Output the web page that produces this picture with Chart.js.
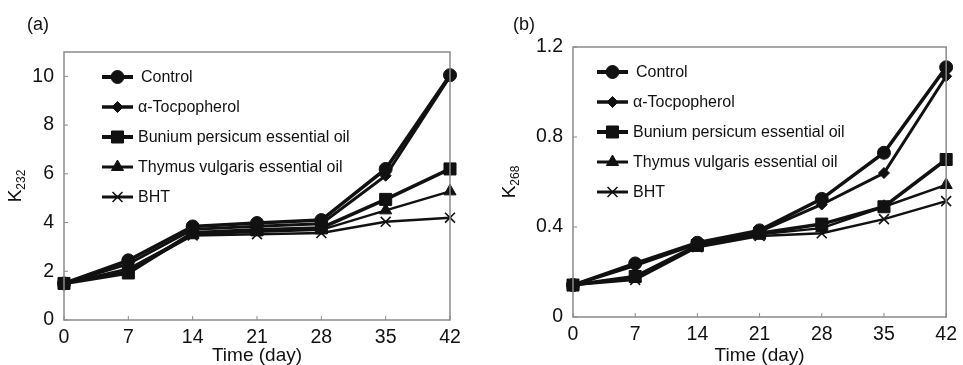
<!DOCTYPE html>
<html>
<head>
<meta charset="utf-8">
<script src="https://cdn.jsdelivr.net/npm/chart.js@4.4.1/dist/chart.umd.min.js"></script>
<style>
  html, body { margin: 0; padding: 0; background: #fff; }
  #wrap { position: relative; width: 963px; height: 365px; overflow: hidden; }
  canvas { position: absolute; top: 0; }
  #chartA { left: 0; }
  #chartB { left: 480px; }
</style>
</head>
<body>
<div id="wrap">
  <canvas id="chartA" width="480" height="365"></canvas>
  <canvas id="chartB" width="483" height="365"></canvas>
</div>
<script>
// storage time (days)
const days = [0, 7, 14, 21, 28, 35, 42];
const seriesNames = ['Control', 'α-Tocpopherol', 'Bunium persicum essential oil', 'Thymus vulgaris essential oil', 'BHT'];

// panel (a) K232
const k232Control = [1.5, 2.45, 3.84, 3.98, 4.1, 6.2, 10.05];
const k232Tocopherol = [1.5, 2.3, 3.72, 3.85, 3.95, 5.92, 10.0];
const k232Bunium = [1.5, 1.93, 3.58, 3.7, 3.78, 4.95, 6.2];
const k232Thymus = [1.5, 2.1, 3.52, 3.62, 3.7, 4.5, 5.28];
const k232Bht = [1.5, 2.0, 3.47, 3.52, 3.57, 4.03, 4.2];
const k232Ticks = [0, 2, 4, 6, 8, 10];

// panel (b) K268
const k268Control = [0.142, 0.238, 0.33, 0.385, 0.525, 0.73, 1.11];
const k268Tocopherol = [0.142, 0.228, 0.325, 0.38, 0.5, 0.64, 1.07];
const k268Bunium = [0.142, 0.18, 0.318, 0.372, 0.413, 0.49, 0.70];
const k268Thymus = [0.142, 0.175, 0.315, 0.368, 0.395, 0.49, 0.587];
const k268Bht = [0.142, 0.165, 0.31, 0.36, 0.372, 0.435, 0.515];
const k268Ticks = [0, 0.4, 0.8, 1.2];

// marker / line styling per series
const pointStyles = ['circle', 'rectRot', 'rect', 'triangle', 'crossRot'];
const pointRadii = [6.5, 5.5, 8.5, 7, 7];
const lineWidths = [3.5, 3, 3.5, 2.5, 2.5];

const FONT = '"Liberation Sans", Arial, sans-serif';
const INK = '#111';
const FRAME = '#8a8a8a';

function buildDatasets(seriesValues) {
    return seriesValues.map((vals, i) => ({
        label: seriesNames[i],
        data: vals.map((v, j) => ({ x: days[j], y: v })),
        borderColor: INK,
        backgroundColor: INK,
        borderWidth: lineWidths[i],
        pointStyle: pointStyles[i],
        pointRadius: pointRadii[i],
        pointBorderWidth: pointStyles[i] === 'crossRot' ? 1.6 : 1,
        pointBackgroundColor: INK,
        pointBorderColor: INK,
        tension: 0,
        clip: false
    }));
}

// frame, inside tick marks, y title with subscript, legend, panel letter
function makeDecor(cfg) {
    return {
        id: 'decor' + cfg.letter,
        afterDraw(chart) {
            const ctx = chart.ctx;
            const a = chart.chartArea;
            const xs = chart.scales.x, ys = chart.scales.y;
            ctx.save();
            ctx.strokeStyle = FRAME;
            ctx.lineWidth = 1.5;
            ctx.strokeRect(a.left, a.top, a.right - a.left, a.bottom - a.top);
            ctx.lineWidth = 1;
            ys.ticks.forEach(t => {
                const y = ys.getPixelForValue(t.value);
                ctx.beginPath(); ctx.moveTo(a.left, y); ctx.lineTo(a.left + 4, y); ctx.stroke();
            });
            xs.ticks.forEach(t => {
                const x = xs.getPixelForValue(t.value);
                ctx.beginPath(); ctx.moveTo(x, a.bottom); ctx.lineTo(x, a.bottom - 4); ctx.stroke();
            });

            // y axis title: K with subscript
            ctx.fillStyle = INK;
            ctx.translate(cfg.yTitleX, (a.top + a.bottom) / 2);
            ctx.rotate(-Math.PI / 2);
            ctx.font = '19px ' + FONT;
            const wK = ctx.measureText('K').width;
            ctx.font = '12px ' + FONT;
            const wS = ctx.measureText(cfg.ySub).width;
            const x0 = -(wK + wS) / 2;
            ctx.textBaseline = 'alphabetic';
            ctx.font = '19px ' + FONT;
            ctx.fillText('K', x0, 7);
            ctx.font = '12px ' + FONT;
            ctx.fillText(cfg.ySub, x0 + wK, 11);
            ctx.restore();

            // panel letter
            ctx.save();
            ctx.fillStyle = INK;
            ctx.font = '18px ' + FONT;
            ctx.textBaseline = 'middle';
            ctx.fillText('(' + cfg.letter + ')', cfg.letterX, 25);

            // legend
            chart.data.datasets.forEach((ds, i) => {
                const y = cfg.legendY + i * 30;
                ctx.strokeStyle = INK;
                ctx.fillStyle = INK;
                ctx.lineWidth = ds.borderWidth + 0.5;
                ctx.beginPath();
                ctx.moveTo(cfg.legendX, y);
                ctx.lineTo(cfg.legendX + 31, y);
                ctx.stroke();
                ctx.lineWidth = ds.pointBorderWidth;
                Chart.helpers.drawPoint(ctx, {
                    pointStyle: ds.pointStyle,
                    radius: ds.pointRadius,
                    rotation: 0,
                    borderWidth: ds.pointBorderWidth
                }, cfg.legendX + 15.5, y);
                ctx.font = '16px ' + FONT;
                ctx.textBaseline = 'middle';
                ctx.fillText(ds.label, cfg.legendX + (i === 0 ? 39 : 36), y + 1);
            });
            ctx.restore();
        }
    };
}

function makeChart(canvasId, seriesValues, yMax, yStep, tickList, area, decor) {
    const canvas = document.getElementById(canvasId);
    return new Chart(canvas, {
        type: 'line',
        data: { datasets: buildDatasets(seriesValues) },
        options: {
            responsive: false,
            animation: false,
            layout: {
                padding: { left: 0, top: area.top, right: canvas.width - area.right, bottom: 0 }
            },
            plugins: {
                legend: { display: false },
                tooltip: { enabled: false }
            },
            scales: {
                x: {
                    type: 'linear',
                    min: 0,
                    max: 42,
                    grid: { display: false, drawTicks: false },
                    border: { display: false },
                    afterFit: s => { s.height = canvas.height - area.bottom; },
                    afterBuildTicks: s => { s.ticks = days.map(v => ({ value: v })); },
                    ticks: {
                        color: INK,
                        padding: 6,
                        maxRotation: 0,
                        font: { family: FONT, size: 19.5 }
                    },
                    title: {
                        display: true,
                        text: 'Time (day)',
                        color: INK,
                        padding: { top: 0, bottom: -2 },
                        font: { family: FONT, size: 19 }
                    }
                },
                y: {
                    type: 'linear',
                    min: 0,
                    max: yMax,
                    grid: { display: false, drawTicks: false },
                    border: { display: false },
                    afterFit: s => { s.width = area.left; },
                    afterBuildTicks: s => { s.ticks = tickList.map(v => ({ value: v })); },
                    ticks: {
                        color: INK,
                        padding: 10,
                        stepSize: yStep,
                        font: { family: FONT, size: 19.5 }
                    }
                }
            }
        },
        plugins: [makeDecor(decor)]
    });
}

makeChart('chartA',
    [k232Control, k232Tocopherol, k232Bunium, k232Thymus, k232Bht],
    11, 2, k232Ticks,
    { left: 64, right: 450, top: 52, bottom: 320 },
    { letter: 'a', letterX: 27, ySub: '232', yTitleX: 14, legendX: 102, legendY: 77 });

makeChart('chartB',
    [k268Control, k268Tocopherol, k268Bunium, k268Thymus, k268Bht],
    1.2, 0.4, k268Ticks,
    { left: 93, right: 473, top: 47, bottom: 317 },
    { letter: 'b', letterX: 33, ySub: '268', yTitleX: 28, legendX: 117, legendY: 72 });
</script>
</body>
</html>
